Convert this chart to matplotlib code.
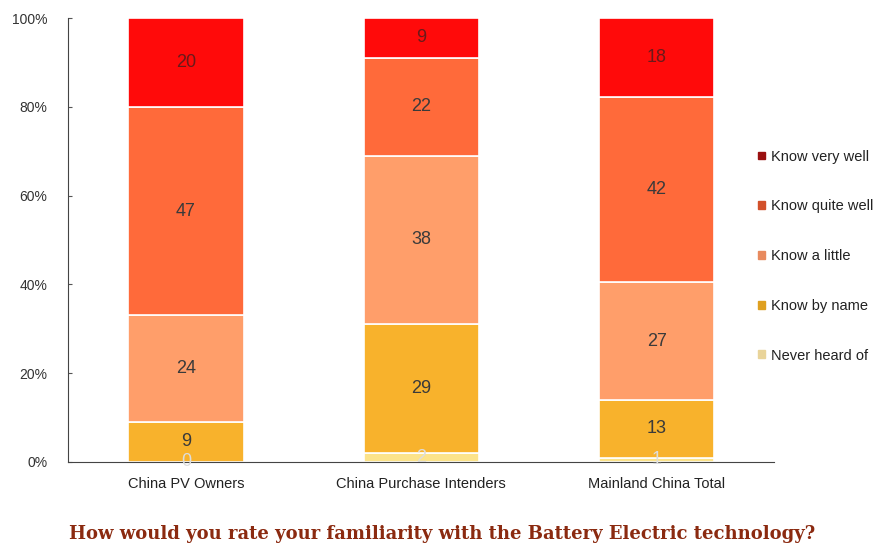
import numpy as np
import matplotlib.pyplot as plt
from matplotlib.patches import Patch

plt.rcParams["font.family"] = ["Liberation Sans", "DejaVu Sans"]

groups = ["China PV Owners", "China Purchase Intenders", "Mainland China Total"]
levels = ["Never heard of", "Know by name", "Know a little", "Know quite well", "Know very well"]

never_heard = [0, 2, 1]
by_name = [9, 29, 13]
a_little = [24, 38, 27]
quite_well = [47, 22, 42]
very_well = [20, 9, 18]

bar_colors = ["#FCE38A", "#F8B22C", "#FF9E6A", "#FF6A3A", "#FF0A0A"]
legend_colors = ["#E9D49A", "#DFA020", "#E88A5E", "#D2502A", "#9A1010"]
label_colors = ["#DDDDDD", "#3A3A3A", "#3A3A3A", "#3A3A3A", "#6A1A1A"]

series = np.array([never_heard, by_name, a_little, quite_well, very_well], dtype=float)
# each bar is scaled to 100% of its own total
shares = series / series.sum(axis=0) * 100

fig = plt.figure(figsize=(8.85, 5.46), dpi=100)
ax = fig.add_axes([0.077, 0.154, 0.798, 0.813])

x = np.arange(len(groups))
bottom = np.zeros(len(groups))
for i, level in enumerate(levels):
    ax.bar(x, shares[i], 0.49, bottom=bottom, color=bar_colors[i],
           edgecolor="white", linewidth=1.2, zorder=2)
    for j in range(len(groups)):
        ax.text(x[j], bottom[j] + shares[i][j] / 2, f"{int(series[i][j])}",
                ha="center", va="center", fontsize=13,
                color=label_colors[i], zorder=3)
    bottom += shares[i]

ax.set_xlim(-0.5, 2.5)
ax.set_ylim(0, 100)
ax.set_yticks(range(0, 101, 20))
ax.set_yticklabels([f"{v}%" for v in range(0, 101, 20)], fontsize=10, color="#333333")
ax.set_xticks(x)
ax.set_xticklabels(groups, fontsize=10.5, color="#222222")
ax.tick_params(axis="x", length=0, pad=11)
ax.tick_params(axis="y", direction="in", length=3, color="#555555", pad=15)
ax.spines["top"].set_visible(False)
ax.spines["right"].set_visible(False)
ax.spines["left"].set_color("#444444")
ax.spines["bottom"].set_color("#444444")

handles = [Patch(color=legend_colors[i], label=levels[i]) for i in range(len(levels))][::-1]
fig.legend(handles=handles, loc="upper left", bbox_to_anchor=(0.842, 0.75),
           frameon=False, fontsize=10.5, handlelength=0.45, handleheight=0.45,
           handletextpad=0.4, labelspacing=2.45, labelcolor="#222222")

fig.text(0.5, 0.005, "How would you rate your familiarity with the Battery Electric technology?",
         ha="center", va="bottom", fontsize=13, fontweight="bold",
         family="DejaVu Serif", color="#8B2A10")

fig.savefig("out.png", dpi=100)
